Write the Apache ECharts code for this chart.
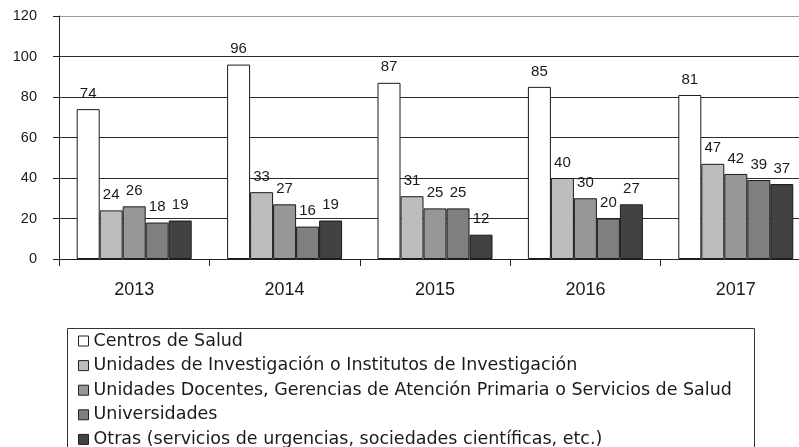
<!DOCTYPE html>
<html>
<head>
<meta charset="utf-8">
<script src="https://cdn.jsdelivr.net/npm/echarts@6/dist/echarts.min.js"></script>
<style>html,body{margin:0;padding:0;background:#fff;}#c{width:799px;height:447px;}</style>
</head>
<body>
<div id="c"></div>
<script>
const years = ['2013', '2014', '2015', '2016', '2017'];
const seriesNames = [
  'Centros de Salud',
  'Unidades de Investigación o Institutos de Investigación',
  'Unidades Docentes, Gerencias de Atención Primaria o Servicios de Salud',
  'Universidades',
  'Otras (servicios de urgencias, sociedades científicas, etc.)'
];
const centrosSalud = [74, 96, 87, 85, 81];
const unidadesInvestigacion = [24, 33, 31, 40, 47];
const unidadesDocentes = [26, 27, 25, 30, 42];
const universidades = [18, 16, 25, 20, 39];
const otras = [19, 19, 12, 27, 37];
const yTicks = [0, 20, 40, 60, 80, 100, 120];

const values = [centrosSalud, unidadesInvestigacion, unidadesDocentes, universidades, otras];
const colors = ['#ffffff', '#bdbdbd', '#979797', '#7f7f7f', '#424242'];

const chart = echarts.init(document.getElementById('c'), null, {renderer: 'canvas'});
const gridColors = yTicks.map((t, i) => i === yTicks.length - 1 ? '#9a9a9a' : '#2a2a2a');

chart.setOption({
  animation: false,
  backgroundColor: '#ffffff',
  textStyle: {fontFamily: 'Liberation Sans, Arial, sans-serif'},
  grid: {left: 59, top: 16, width: 752, height: 243, containLabel: false, outerBoundsMode: 'none'},
  xAxis: {
    type: 'category',
    data: years,
    boundaryGap: true,
    axisLine: {show: true, lineStyle: {color: '#222', width: 1}},
    axisTick: {show: true, alignWithLabel: false, length: 7, lineStyle: {color: '#222'}},
    axisLabel: {fontSize: 18, color: '#1a1a1a', margin: 22, fontFamily: 'Liberation Sans'}
  },
  yAxis: {
    type: 'value',
    min: yTicks[0],
    max: yTicks[yTicks.length - 1],
    interval: 20,
    axisLine: {show: true, lineStyle: {color: '#222', width: 1}},
    axisTick: {show: true, length: 6, lineStyle: {color: '#222'}},
    axisLabel: {fontSize: 14.5, color: '#1a1a1a', margin: 22, fontFamily: 'Liberation Sans'},
    splitLine: {show: true, lineStyle: {color: gridColors, width: 1.2}}
  },
  legend: {
    orient: 'vertical',
    left: 78,
    top: 332,
    height: 300,
    padding: 0,
    itemWidth: 10,
    itemHeight: 10,
    itemGap: 6.6,
    icon: 'rect',
    itemStyle: {borderColor: '#222', borderWidth: 1},
    textStyle: {fontSize: 17.5, color: '#1a1a1a', fontFamily: 'DejaVu Sans', padding: [0, 0, 0, 0]},
    data: seriesNames
  },
  graphic: [{
    type: 'rect',
    left: 65, top: 326,
    shape: {width: 687, height: 140},
    style: {fill: 'none', stroke: '#333', lineWidth: 1},
    silent: true
  }],
  series: values.map((v, i) => ({
    name: seriesNames[i],
    type: 'bar',
    data: v,
    barWidth: 23,
    barGap: '0%',
    itemStyle: {color: colors[i], borderColor: '#1a1a1a', borderWidth: 1},
    label: {show: true, position: 'top', distance: 8, fontSize: 15, color: '#1a1a1a', fontFamily: 'Liberation Sans'}
  }))
});
</script>
</body>
</html>
